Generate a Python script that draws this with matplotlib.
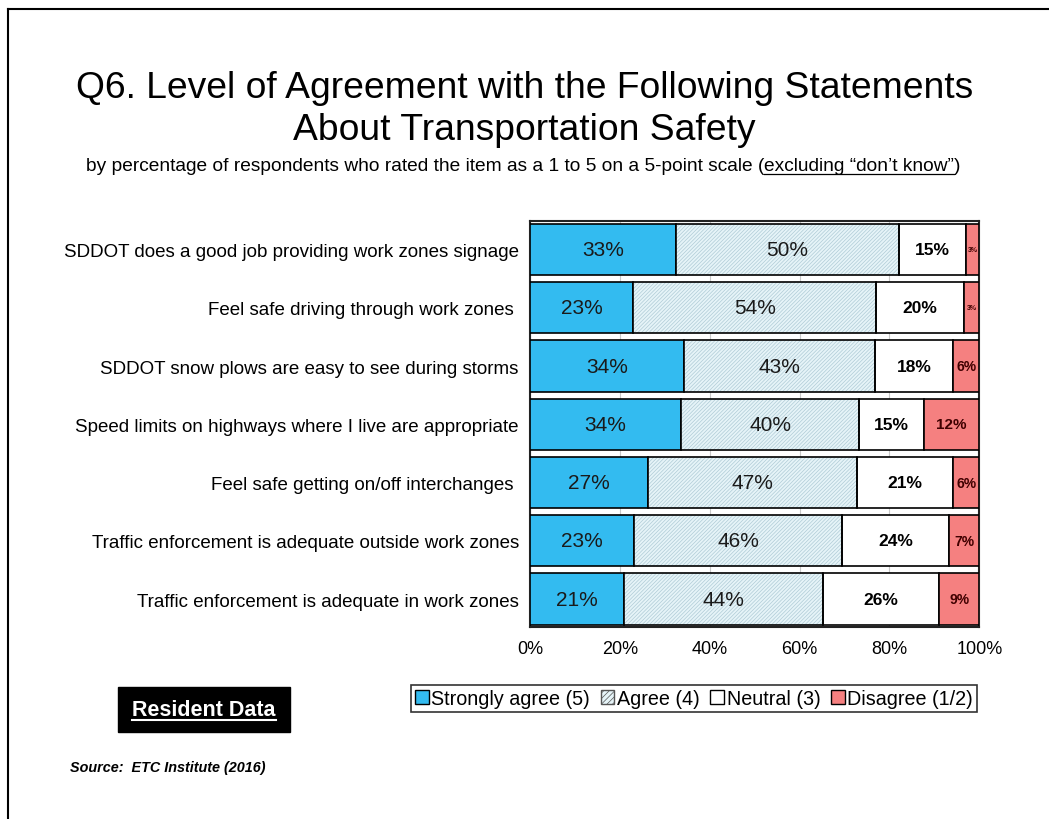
import numpy as np
import matplotlib
matplotlib.use('Agg')
import matplotlib.pyplot as plt
from matplotlib import font_manager
from matplotlib.patches import Patch, Rectangle
from matplotlib.lines import Line2D

# fonts
nomes = {f.name for f in font_manager.fontManager.ttflist}
narrow = 'Liberation Sans Narrow' if 'Liberation Sans Narrow' in nomes else 'Liberation Sans'
plt.rcParams['font.family'] = ['Liberation Sans', 'DejaVu Sans']
plt.rcParams['hatch.linewidth'] = 0.5

# dados
itens = ['SDDOT does a good job providing work zones signage',
         'Feel safe driving through work zones ',
         'SDDOT snow plows are easy to see during storms',
         'Speed limits on highways where I live are appropriate',
         'Feel safe getting on/off interchanges ',
         'Traffic enforcement is adequate outside work zones',
         'Traffic enforcement is adequate in work zones']
forte = [32.4, 23.0, 34.2, 33.7, 26.3, 23.1, 21.0]
concorda = [49.7, 54.0, 42.6, 39.5, 46.5, 46.4, 44.2]
neutro = [15.0, 19.5, 17.4, 14.5, 21.4, 23.8, 25.8]
discorda = [2.9, 3.5, 5.8, 12.3, 5.8, 6.7, 9.0]
rot_forte = ['33%', '23%', '34%', '34%', '27%', '23%', '21%']
rot_concorda = ['50%', '54%', '43%', '40%', '47%', '46%', '44%']
rot_neutro = ['15%', '20%', '18%', '15%', '21%', '24%', '26%']
rot_discorda = ['3%', '3%', '6%', '12%', '6%', '7%', '9%']
legenda = ['Strongly agree (5)', 'Agree (4)', 'Neutral (3)', 'Disagree (1/2)']

azul = '#33BBF0'
ciano = '#E6F4F8'
hatch_cor = '#AFCBD6'
vermelho = '#F58080'

fig = plt.figure(figsize=(10.49, 8.2), dpi=100)
ax = fig.add_axes([0.5052, 0.2341, 0.4284, 0.4952])

y = np.arange(len(itens))
h = 0.88
esq = np.zeros(len(itens))

# fortemente concorda
ax.barh(y, forte, left=esq, height=h, color=azul, edgecolor='black', linewidth=1.2, zorder=3)
for i in range(len(itens)):
    ax.text(esq[i] + forte[i] / 2, y[i], rot_forte[i], ha='center', va='center', fontsize=15,
            color='#1a1a1a', zorder=5)
esq = esq + np.array(forte)

# concorda (hachurado)
ax.barh(y, concorda, left=esq, height=h, color=ciano, edgecolor=hatch_cor, hatch='/' * 9, linewidth=0, zorder=3)
ax.barh(y, concorda, left=esq, height=h, fill=False, edgecolor='black', linewidth=1.2, zorder=4)
for i in range(len(itens)):
    ax.text(esq[i] + concorda[i] / 2, y[i], rot_concorda[i], ha='center', va='center', fontsize=15,
            color='#1a1a1a', zorder=5)
esq = esq + np.array(concorda)

# neutro
ax.barh(y, neutro, left=esq, height=h, color='white', edgecolor='black', linewidth=1.2, zorder=3)
for i in range(len(itens)):
    ax.text(esq[i] + neutro[i] / 2, y[i], rot_neutro[i], ha='center', va='center', fontsize=12.5,
            fontweight='bold', zorder=5)
esq = esq + np.array(neutro)

# discorda
ax.barh(y, discorda, left=esq, height=h, color=vermelho, edgecolor='black', linewidth=1.2, zorder=3)
for i in range(len(itens)):
    tam = 11 if discorda[i] > 10 else (10 if discorda[i] > 5 else 5)
    ax.text(esq[i] + discorda[i] / 2, y[i], rot_discorda[i], ha='center', va='center', fontsize=tam,
            fontweight='bold', color='#400000', zorder=5)

ax.set_xlim(0, 100)
ax.set_ylim(6.48, -0.49)
ax.set_xticks([0, 20, 40, 60, 80, 100])
ax.set_xticklabels(['0%', '20%', '40%', '60%', '80%', '100%'], fontsize=13)
ax.set_yticks(y)
ax.set_yticklabels(itens, fontsize=13.5)
ax.tick_params(axis='both', length=0)
ax.tick_params(axis='y', pad=8)
ax.tick_params(axis='x', pad=9)
ax.grid(axis='x', color='#C8C8C8', linewidth=0.8, zorder=0)
for s in ax.spines.values():
    s.set_linewidth(1.5)
    s.set_color('#222222')

# legenda
alcas = [Patch(facecolor=azul, edgecolor='black'),
         Patch(facecolor=ciano, edgecolor='#555555', hatch='/' * 6),
         Patch(facecolor='white', edgecolor='black'),
         Patch(facecolor=vermelho, edgecolor='black')]
leg = fig.legend(alcas, legenda, loc='center', bbox_to_anchor=(0.6616, 0.1470), ncol=4, fontsize=14.2,
                 frameon=True, fancybox=False, edgecolor='black', handlelength=0.7, handleheight=0.7,
                 handletextpad=0.12, columnspacing=0.55, borderpad=0.2, borderaxespad=0)
leg.get_frame().set_linewidth(1.2)

# titulo
fig.text(0.5, 0.8665, 'Q6. Level of Agreement with the Following Statements\nAbout Transportation Safety',
         ha='center', va='center', fontsize=26.8, family=narrow, linespacing=1.27)

# subtitulo com sublinhado
partes = ['by percentage of respondents who rated the item as a 1 to 5 on a 5-point scale (',
          'excluding \u201cdon\u2019t know\u201d', ')']
ysub = 0.7915
textos = [fig.text(0, ysub, p, ha='left', va='baseline', fontsize=13.8, family=narrow) for p in partes]
fig.canvas.draw()
r = fig.canvas.get_renderer()
larg = [t.get_window_extent(r).width for t in textos]
x0 = (523 - sum(larg) / 2)
for t, w in zip(textos, larg):
    t.set_x(x0 / 1049)
    x0 += w
xa = (523 - sum(larg) / 2 + larg[0]) / 1049
xb = xa + larg[1] / 1049
fig.add_artist(Line2D([xa, xb], [ysub - 0.0045, ysub - 0.0045], color='black', lw=0.9))

# caixa Resident Data
fig.add_artist(Rectangle((118 / 1049, 1 - 733 / 820), 172 / 1049, 45 / 820, facecolor='black',
                         edgecolor='black', transform=fig.transFigure))
td = fig.text(204 / 1049, 1 - 711 / 820, 'Resident Data', ha='center', va='center', color='white',
              fontsize=15.5, fontweight='bold')
fig.canvas.draw()
bb = td.get_window_extent(fig.canvas.get_renderer())
fig.add_artist(Line2D([bb.x0 / 1049, bb.x1 / 1049], [(bb.y0 + 1) / 820, (bb.y0 + 1) / 820], color='white', lw=1.5))

fig.text(70 / 1049, 1 - 768 / 820, 'Source:  ETC Institute (2016)', ha='left', va='center', fontsize=10.4,
         fontweight='bold', fontstyle='italic')

# moldura
fig.add_artist(Line2D([8 / 1049, 8 / 1049], [0, 1 - 10 / 820], color='black', lw=1.5))
fig.add_artist(Line2D([8 / 1049, 1], [1 - 10 / 820, 1 - 10 / 820], color='black', lw=1.5))

fig.savefig('out.png', dpi=100)
